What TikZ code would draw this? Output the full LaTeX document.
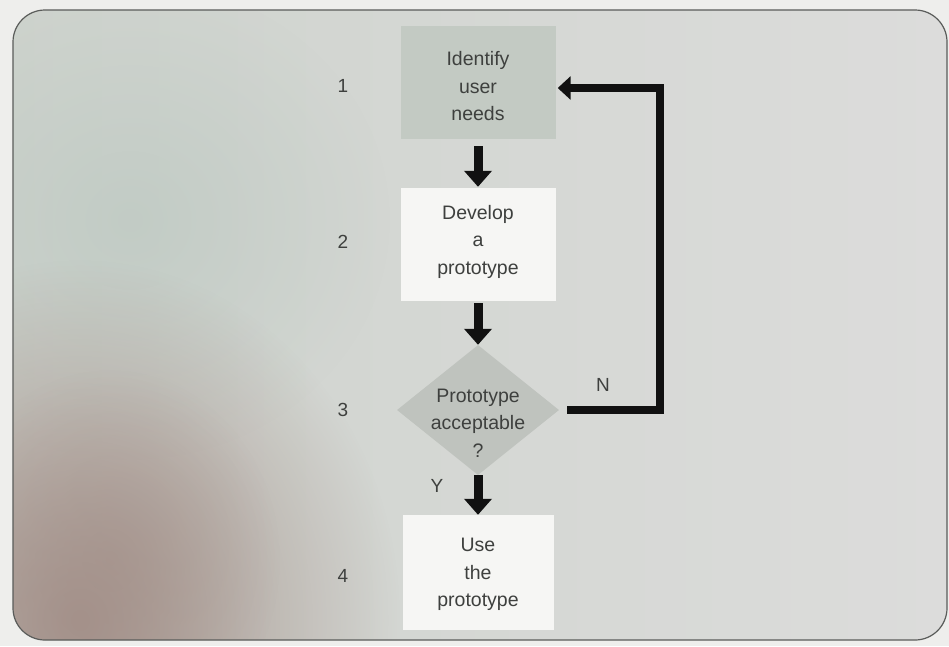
\documentclass[tikz,border=0pt]{standalone}
\usepackage{fontspec}
\setmainfont{Liberation Sans}
\usetikzlibrary{arrows.meta,shapes.geometric,fadings}

\definecolor{paper}{HTML}{EEEEEC}
\definecolor{cardL}{HTML}{CED3CD}
\definecolor{cardR}{HTML}{DCDCDB}
\definecolor{edge}{HTML}{5A5C5A}
\definecolor{stain}{HTML}{A4918A}
\definecolor{tint}{HTML}{BCC8C1}
\definecolor{boxgrey}{HTML}{C3CAC3}
\definecolor{diagrey}{HTML}{BFC3BE}
\definecolor{boxwhite}{HTML}{F6F6F4}
\definecolor{ink}{HTML}{3E403E}
\definecolor{flow}{HTML}{111111}

% soft spot: opaque in the middle, fading out towards the rim
\tikzfading[name=softspot, inner color=transparent!0, outer color=transparent!100]

\tikzset{
  stepbox/.style={rectangle, inner sep=0pt, minimum width=155pt, minimum height=113pt},
  decision/.style={diamond, inner sep=0pt, minimum width=162pt, minimum height=130pt, fill=diagrey},
  txt/.style={text=ink, align=center, font=\fontsize{19.5}{27.5}\selectfont},
  num/.style={text=ink, font=\fontsize{19}{22}\selectfont},
  flowarrow/.style={draw=flow, line width=9pt,
    -{Triangle[width=27pt,length=16pt]}},
  backarrow/.style={draw=flow, line width=8pt,
    -{Triangle[width=23pt,length=13pt]}},
}

\begin{document}
\begin{tikzpicture}[x=1pt, y=-1pt]
  \useasboundingbox (0,0) rectangle (949,646);
  \fill[paper] (0,0) rectangle (949,646);

  % the card with its rounded corners
  \begin{scope}
    \clip[rounded corners=32pt] (13,10) rectangle (947,640);
    \shade[left color=cardL, right color=cardR] (0,0) rectangle (949,646);
    \fill[tint, opacity=0.7, path fading=softspot]
      (130,220) ellipse (260pt and 240pt);
    \fill[stain, opacity=1, path fading=softspot]
      (80,620) ellipse (320pt and 360pt);
    \fill[stain, opacity=0.6, path fading=softspot]
      (110,560) ellipse (170pt and 190pt);
  \end{scope}
  \draw[edge, line width=1.2pt, rounded corners=32pt] (13,10) rectangle (947,640);

  % steps of the flow
  \node[stepbox, fill=boxgrey] (n1) at (478,82.5) {};
  \node[stepbox, fill=boxwhite] (n2) at (478,244.5) {};
  \node[decision] (n3) at (478,410) {};
  \node[stepbox, fill=boxwhite, minimum width=151pt, minimum height=115pt] (n4) at (478,572.5) {};

  \node[txt] (t1) at ([yshift=-4pt]n1.center) {Identify\\user\\needs};
  \node[txt] (t2) at ([yshift=3pt]n2.center) {Develop\\a\\prototype};
  \node[txt] (t3) at ([yshift=-13pt]n3.center) {Prototype\\acceptable\\?};
  \node[txt] (t4) at ([yshift=-2pt]n4.center) {Use\\the\\prototype};

  % step numbers
  \node[num] (l1) at (343,86) {1};
  \node[num] (l2) at (343,242) {2};
  \node[num] (l3) at (343,410) {3};
  \node[num] (l4) at (343,576) {4};

  % connectors
  \draw[flowarrow, shorten <=7pt, shorten >=1pt] (n1.south) -- (n2.north);
  \draw[flowarrow, shorten <=2pt, shorten >=0pt] (n2.south) -- (n3.north);
  \draw[flowarrow, shorten <=0pt, shorten >=0pt] (n3.south) -- (n4.north);

  \coordinate (turn) at (660,88);
  \draw[backarrow, shorten >=2pt] ([xshift=8pt]n3.east) -| (turn) -- (n1.east |- turn);

  \node[num] (ly) at (437,486) {Y};
  \node[num] (ln) at (603,385) {N};
\end{tikzpicture}
\end{document}
